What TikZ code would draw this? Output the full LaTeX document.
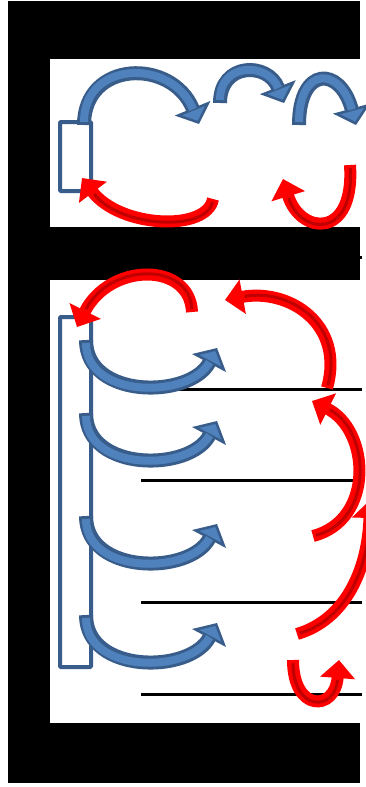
\documentclass[tikz,border=0pt]{standalone}
\usepackage{tikz}
\usetikzlibrary{arrows.meta}
\definecolor{bleufonce}{RGB}{56,93,138}
\definecolor{bleuclair}{RGB}{79,129,189}
\definecolor{rougefonce}{RGB}{192,0,0}

\begin{document}
\begin{tikzpicture}[x=1pt,y=-1pt,
    fleche bleue/.style={draw=bleufonce, line width=14pt,
        -{Triangle[length=17pt,width=38pt,fill=bleuclair,line width=2.5pt]},
        postaction={draw=bleuclair, line width=8pt, -, shorten >=16pt, shorten <=3pt}},
    fleche rouge/.style={draw=red, line width=12pt,
        -{Triangle[length=18pt,width=34pt]},
        postaction={draw=rougefonce, line width=3pt, -, shorten >=20pt, shorten <=3pt}},
    cadre/.style={draw=bleufonce, line width=4pt, rounded corners=1pt},
    trait/.style={draw=black, line width=3pt}]
    \useasboundingbox (0,0) rectangle (366,787);
    \clip (0,0) rectangle (366,787);

    % Fond noir et zones blanches
    \draw[trait] (141,257) -- (362,257);
    \fill[black] (8,1) rectangle (360,783);
    \fill[white] (50,59) rectangle (360,227);
    \fill[white] (50,280) rectangle (360,723);

    % Traits horizontaux
    \foreach \y in {389,480,602,694}
        \draw[trait] (141,\y) -- (362,\y);

    % Cadres
    \draw[cadre] (60,122) rectangle (91,191);
    \draw[cadre] (60,317) rectangle (91,667);

    % Fleches du haut
    \draw[fleche bleue] (84,125) .. controls (84,60) and (172,58) .. (199,124);
    \draw[fleche bleue] (220,103) .. controls (220,62) and (268,62) .. (284,103);
    \draw[fleche bleue] (299,125) .. controls (299,66) and (340,66) .. (356,125);
    \draw[fleche rouge] (213,199) .. controls (207,232) and (120,228) .. (82,178);
    \draw[fleche rouge] (350,165) .. controls (355,240) and (300,235) .. (283,179);

    % Fleches du bas
    \foreach \s in {340,413,516,615}
        \draw[fleche bleue] (86,\s) .. controls (86,\s+59) and (190,\s+59) .. (217,\s+8);
    \draw[fleche rouge] (192,312) .. controls (190,262) and (110,262) .. (77,327);
    \draw[fleche rouge] (327,388) .. controls (345,325) and (290,288) .. (225,300);
    \draw[fleche rouge] (313,536) .. controls (375,520) and (370,430) .. (312,401);
    \draw[fleche rouge] (297,634) .. controls (345,620) and (368,570) .. (370,500);
    \draw[fleche rouge] (293,660) .. controls (293,712) and (335,712) .. (339,660);
\end{tikzpicture}
\end{document}
